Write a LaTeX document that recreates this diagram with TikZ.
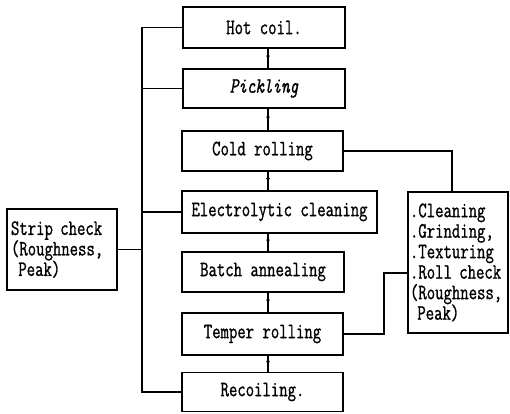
\documentclass[tikz,border=0pt]{standalone}
\usepackage{fontspec}
\newfontfamily\boxfont[FakeStretch=0.74,FakeBold=1]{Latin Modern Mono}
\usetikzlibrary{arrows.meta}
\begin{document}
\begin{tikzpicture}[x=1bp,y=-1bp,
  stepbox/.style={draw,line width=1.3bp,inner sep=0pt,font=\boxfont\fontsize{22bp}{20.5bp}\selectfont},
  conn/.style={line width=1.3bp},
  flow/.style={line width=1.3bp,-{Latex[length=5bp,width=4bp]}}]
\useasboundingbox (0,0) rectangle (510,413);
\node[stepbox,minimum width=162bp,minimum height=41bp] (hot) at (264,27.5) {Hot coil.};
\node[stepbox,minimum width=162bp,minimum height=39bp] (pick) at (264,88.5) {\itshape Pickling};
\node[stepbox,minimum width=161bp,minimum height=40bp] (cold) at (262.5,151) {Cold rolling};
\node[stepbox,minimum width=195bp,minimum height=42bp] (elec) at (279.5,212) {Electrolytic cleaning};
\node[stepbox,minimum width=162bp,minimum height=40bp] (batch) at (263,272) {Batch annealing};
\node[stepbox,minimum width=161bp,minimum height=42bp] (temper) at (262.5,334) {Temper rolling};
\node[stepbox,minimum width=161bp,minimum height=39bp] (recoil) at (262.5,392) {Recoiling.};
\node[stepbox,minimum width=110bp,minimum height=81bp,align=left,text width=102bp] (strip) at (62,249.5) {Strip check\\(Roughness,\\\ Peak)};
\node[stepbox,minimum width=100bp,minimum height=141bp,align=left,text width=96bp] (roll) at (458,262.5) {.Cleaning\\.Grinding,\\.Texturing\\.Roll check\\(Roughness,\\\ Peak)};
% flow arrows
\foreach \a/\b in {hot/pick,pick/cold,cold/elec,elec/batch,batch/temper,temper/recoil}{
  \draw[conn] (\a.south -| 268,0) -- (\b.north -| 268,0);
  \path (\a.south -| 268,0) -- coordinate[midway] (m) (\b.north -| 268,0);
  \draw[flow] (\a.south -| 268,0) -- ([yshift=-2bp]m);
}
% strip check bus
\coordinate (bt) at (142,27.5);
\coordinate (bb) at (142,392);
\draw[conn] (hot.west) -- (bt) -- (bb) -- (recoil.west);
\draw[conn] (pick.west) -- (pick.west -| bt);
\draw[conn] (elec.west) -- (elec.west -| bt);
\draw[conn] (strip.east) -- (strip.east -| bt);
% roll check
\coordinate (c1) at (452,151);
\draw[conn] (cold.east) -- (c1) -- (c1 |- roll.north);
\coordinate (t1) at (384,334);
\coordinate (t2) at (384,273);
\draw[conn] (temper.east) -- (t1) -- (t2) -- (t2 -| roll.west);
\end{tikzpicture}
\end{document}
